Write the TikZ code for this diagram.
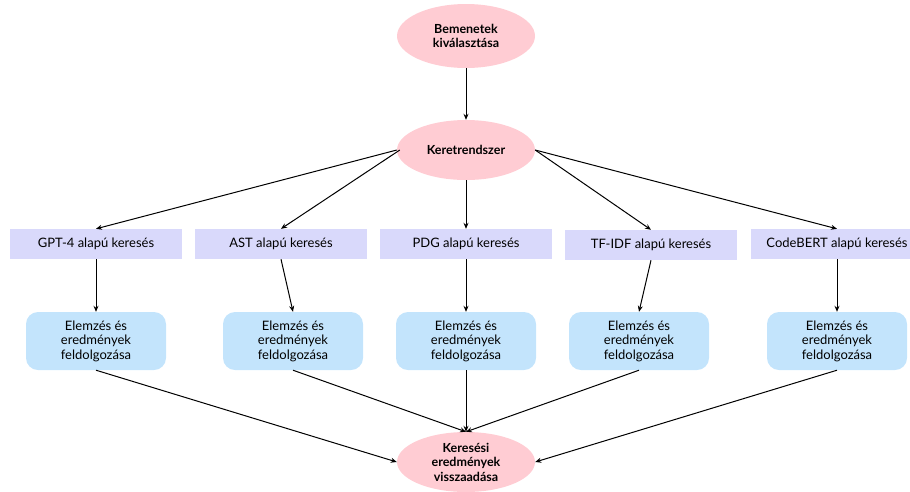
\documentclass[tikz,border=0pt]{standalone}
\usepackage{fontspec}
\setmainfont{Lato}
\usetikzlibrary{arrows.meta,shapes.geometric}
\definecolor{pinkfill}{HTML}{FFCCD3}
\definecolor{lavfill}{HTML}{D9D9FB}
\definecolor{bluefill}{HTML}{C3E4FC}
\begin{document}
\begin{tikzpicture}[x=1pt,y=-1pt,
  oval/.style={ellipse,fill=pinkfill,minimum width=138pt,minimum height=60pt,inner sep=0pt,align=center,font=\fontsize{12.5}{14.5}\selectfont\bfseries},
  method/.style={rectangle,fill=lavfill,minimum width=172pt,minimum height=30pt,inner sep=0pt,font=\fontsize{13}{14.5}\selectfont},
  proc/.style={rectangle,rounded corners=12pt,fill=bluefill,minimum width=140pt,minimum height=58pt,inner sep=0pt,align=center,font=\fontsize{13}{14.5}\selectfont},
  arr/.style={-{Stealth[length=6pt,width=5pt]},line width=1pt}]
\useasboundingbox (0,0) rectangle (910,491);
\begin{scope}
\clip (0,0) rectangle (910,491);
\node[oval,minimum height=64pt] (in) at (466,36) {Bemenetek\\kiválasztása};
\node[oval] (fw) at (466,150) {Keretrendszer};
\node[oval] (out) at (466,462) {Keresési\\eredmények\\visszaadása};
\node[method] (m1) at (96,244) {GPT-4 alapú keresés};
\node[method] (m2) at (281,244) {AST alapú keresés};
\node[method] (m3) at (466,244) {PDG alapú keresés};
\node[method] (m4) at (651,245) {TF-IDF alapú keresés};
\node[method] (m5) at (837,244) {CodeBERT alapú keresés};
\foreach \i/\x in {1/96,2/293,3/466,4/639,5/837}{
  \node[proc] (p\i) at (\x,341) {Elemzés és\\eredmények\\feldolgozása};
}
\end{scope}
\draw[arr] (in) -- (fw);
\draw[arr] (fw.west) -- (m1.north);
\draw[arr] (fw.west) ++(3,0) -- (m2.north);
\draw[arr] (fw.south) -- (m3.north);
\draw[arr] (fw.east) -- (m4.north);
\draw[arr] (fw.east) -- (m5.north);
\draw[arr] (m1.south) -- (p1.north);
\draw[arr] (m2.south) -- (p2.north);
\draw[arr] (m3.south) -- (p3.north);
\draw[arr] (m4.south) -- (p4.north);
\draw[arr] (m5.south) -- (p5.north);
\draw[arr] (p1.south) -- (out.west);
\draw[arr] (p2.south) -- (out.north);
\draw[arr] (p3.south) -- (out.north);
\draw[arr] (p4.south) -- (out.north);
\draw[arr] (p5.south) -- (out.east);
\end{tikzpicture}
\end{document}
